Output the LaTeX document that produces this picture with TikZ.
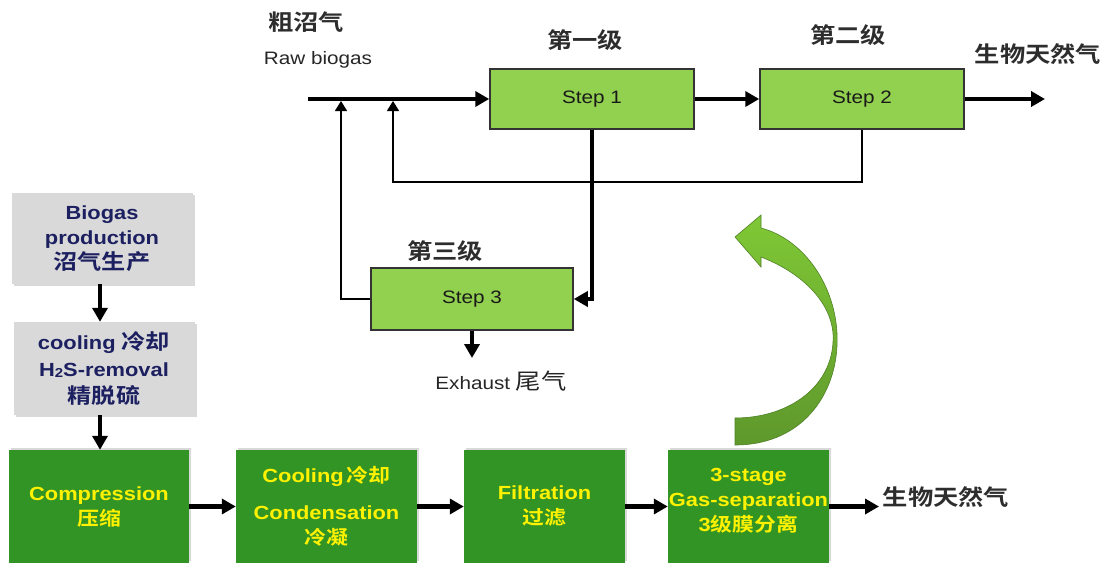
\documentclass[tikz,border=0pt]{standalone}
\usepackage{fontspec}
\setmainfont{Liberation Sans}[FakeStretch=1.15]
\newfontfamily\cjk{Noto Sans CJK SC}[FakeStretch=1.15,BoldFont={Noto Sans CJK SC Bold}]
\usetikzlibrary{arrows.meta,shadows}
\definecolor{stepgreen}{RGB}{146,208,80}
\definecolor{darkgreen}{RGB}{51,148,38}
\definecolor{boxgray}{RGB}{217,217,217}
\definecolor{navy}{RGB}{28,32,96}
\definecolor{labelgray}{RGB}{45,45,45}
\definecolor{arcA}{RGB}{128,200,54}
\definecolor{arcB}{RGB}{94,152,44}
\begin{document}
\begin{tikzpicture}[x=1pt,y=-1pt,
  stepbox/.style={draw=black!80, line width=1.5pt, fill=stepgreen, minimum width=204pt, minimum height=60pt, inner sep=0pt, font=\fontsize{18}{22}\selectfont, text=black!90},
  graybox/.style={fill=boxgray, minimum width=181pt, inner sep=0pt, align=center, text=navy, drop shadow={opacity=0.3,shadow xshift=2pt,shadow yshift=-2pt}},
  greenbox/.style={fill=darkgreen, minimum height=113pt, inner sep=0pt, align=center, font=\bfseries\fontsize{19}{25}\selectfont, text=yellow, drop shadow={opacity=0.3,shadow xshift=2pt,shadow yshift=2pt}},
  fatline/.style={line width=4.5pt, line join=miter, -{Triangle[length=14pt,width=15pt]}},
  thinline/.style={line width=1.5pt, -{Triangle[length=10pt,width=12pt]}},
  cjklabel/.style={font=\cjk\bfseries\fontsize{22}{24}\selectfont, text=labelgray, inner sep=0pt},
  txtlabel/.style={font=\fontsize{18}{22}\selectfont, text=black!85, inner sep=0pt}
]
\useasboundingbox (0,0) rectangle (1111,565);

% top flow
\node[stepbox] (s1) at (592,99) {Step 1};
\node[stepbox] (s2) at (862,99) {Step 2};
\node[stepbox, minimum width=202pt, minimum height=62pt] (s3) at (472,299) {Step 3};

\coordinate (raw) at (308,99);
\coordinate (out1) at (1045,99);
\coordinate (j1) at (341,101);
\coordinate (j2) at (393,101);
\coordinate (c2) at (862,182);
\coordinate (ex) at (472,358);

\draw[thinline] (s3.west) -| (j1);
\draw[thinline] (s2.south) -- (c2) -| (j2);
\draw[fatline] (raw) -- (s1.west);
\draw[fatline] (s1.east) -- (s2.west);
\draw[fatline] (s2.east) -- (out1);
\draw[fatline] (s1.south) -- (s1.south |- s3.east) -- (s3.east);
\draw[fatline, line width=4pt] (s3.south) -- (ex);

\node[cjklabel] (l1) at (306,22) {粗沼气};
\node[txtlabel] (l2) at (318,60) {Raw biogas};
\node[cjklabel] (l3) at (585,40) {第一级};
\node[cjklabel] (l4) at (848,35) {第二级};
\node[cjklabel] (l5) at (1038,54) {生物天然气};
\node[cjklabel] (l6) at (445,251) {第三级};
\node[txtlabel] (l7) at (501,381) {Exhaust {\cjk\fontsize{22}{24}\selectfont 尾气}};

% left column
\node[graybox, minimum height=91pt, font=\bfseries\fontsize{19}{25}\selectfont] (bp) at (102,238.5) {Biogas\\production\\{\cjk\fontsize{21}{25}\selectfont 沼气生产}};
\node[graybox, minimum height=93pt, font=\bfseries\fontsize{19}{27}\selectfont] (cl) at (104,368.5) {cooling {\cjk\fontsize{21}{25}\selectfont 冷却}\\H\raisebox{-1.5pt}{\fontsize{13}{13}\selectfont 2}S-removal\\{\cjk\fontsize{21}{25}\selectfont 精脱硫}};

% bottom row
\node[greenbox, minimum width=180pt] (comp) at (99,506.5) {Compression\\{\cjk 压缩}};
\node[greenbox, minimum width=181pt] (cond) at (326.5,506.5) {Cooling\,{\cjk 冷却}\\[12pt]Condensation\\{\cjk 冷凝}};
\node[greenbox, minimum width=161pt] (filt) at (544.5,506.5) {Filtration\\{\cjk 过滤}};
\node[greenbox, minimum width=161pt] (gas) at (748.5,506.5) {3-stage\\Gas-separation\\3{\cjk 级膜分离}\\[-12pt]\mbox{}};
\coordinate (out2) at (879,506.5);

\draw[fatline, line width=4pt] (bp.south -| 100,0) -- (cl.north -| 100,0);
\draw[fatline, line width=4pt] (cl.south -| 100,0) -- (comp.north -| 100,0);
\draw[fatline] (comp.east) -- (cond.west);
\draw[fatline] (cond.east) -- (filt.west);
\draw[fatline] (filt.east) -- (gas.west);
\draw[fatline] (gas.east) -- (out2);
\node[cjklabel] (l8) at (946,497) {生物天然气};

% curved green arrow
\shade[top color=arcA, bottom color=arcB, draw=arcB!85!black, line width=0.6pt]
  (735,445) .. controls (805,445) and (840,390) .. (837,333)
  .. controls (834,280) and (800,238) .. (761,228)
  -- (761,215) -- (735,237) -- (761,267) -- (761,257)
  .. controls (800,272) and (830,300) .. (833,333)
  .. controls (836,385) and (790,418) .. (735,418) -- cycle;
\end{tikzpicture}
\end{document}
